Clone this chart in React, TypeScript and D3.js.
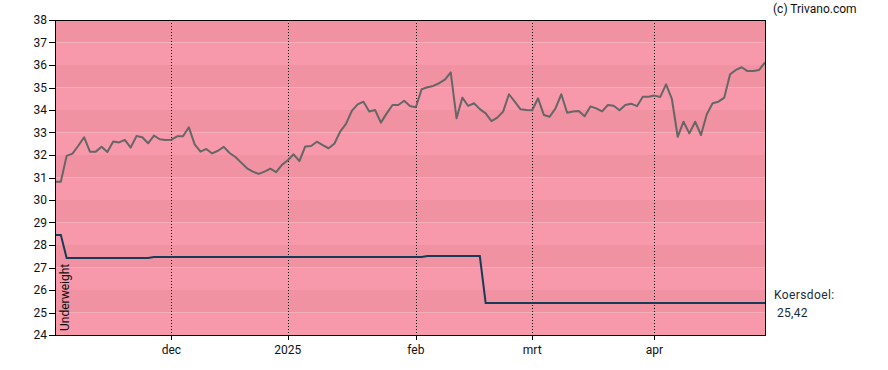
import React from "react";
import * as d3 from "d3";

// Koers (price) per trading day, index 0..122
const price: number[] = [
  30.81, 30.81, 31.96, 32.06, 32.41, 32.79, 32.15, 32.15, 32.37, 32.13,
  32.6, 32.56, 32.67, 32.33, 32.84, 32.79, 32.52, 32.86, 32.7, 32.67,
  32.68, 32.83, 32.83, 33.23, 32.47, 32.15, 32.27, 32.07, 32.19, 32.36,
  32.09, 31.91, 31.66, 31.41, 31.26, 31.16, 31.26, 31.39, 31.24, 31.56,
  31.77, 32.03, 31.73, 32.38, 32.4, 32.59, 32.44, 32.3, 32.5, 33.04,
  33.38, 33.96, 34.25, 34.37, 33.93, 34.0, 33.44, 33.85, 34.22, 34.22,
  34.41, 34.18, 34.12, 34.92, 35.01, 35.07, 35.19, 35.35, 35.67, 33.63,
  34.55, 34.18, 34.3, 34.04, 33.85, 33.51, 33.66, 33.93, 34.7, 34.37,
  34.03, 34.0, 33.99, 34.52, 33.78, 33.7, 34.07, 34.7, 33.88, 33.93,
  33.96, 33.72, 34.16, 34.07, 33.94, 34.22, 34.19, 33.99, 34.22, 34.28,
  34.17, 34.59, 34.59, 34.64, 34.58, 35.14, 34.49, 32.81, 33.48, 32.96,
  33.48, 32.89, 33.81, 34.3, 34.37, 34.55, 35.59, 35.78, 35.9, 35.73,
  35.73, 35.78, 36.12,
];

// Koersdoel (target price) step segments: [fromIndex, toIndex, value]
const targetSteps: [number, number, number][] = [
  [0, 1, 28.45],
  [2, 16, 27.42],
  [17, 63, 27.47],
  [64, 73, 27.51],
  [74, 122, 25.42],
];

const xTickIndex: number[] = [20, 40, 62, 82, 103];
const xTickLabels: string[] = ["dec", "2025", "feb", "mrt", "apr"];
const yTicks: number[] = [24, 25, 26, 27, 28, 29, 30, 31, 32, 33, 34, 35, 36, 37, 38];

const targetLabel = "Koersdoel:";
const targetValueLabel = "25,42";
const adviceLabel = "Underweight";
const copyright = "(c) Trivano.com";

export default function App() {
  const W = 888;
  const H = 370;
  const left = 55;
  const right = 765;
  const top = 20;
  const bottom = 335;

  const x = d3.scaleLinear().domain([0, price.length - 1]).range([left, right]);
  const y = d3.scaleLinear().domain([24, 38]).range([bottom, top]);

  const target: [number, number][] = [];
  targetSteps.forEach(([a, b, v]) => {
    for (let i = a; i <= b; i++) target.push([i, v]);
  });

  const line = d3
    .line<[number, number]>()
    .x((d) => x(d[0]))
    .y((d) => y(d[1]));

  const pricePath = line(price.map((v, i) => [i, v] as [number, number])) || "";
  const targetPath = line(target) || "";

  const bands = d3.range(24, 38);
  const font = "Roboto, 'Liberation Sans', Arial, sans-serif";

  return (
    <svg
      width={W}
      height={H}
      style={{ position: "absolute", left: 0, top: 0, background: "#fff" }}
      fontFamily={font}
    >
      {bands.map((b) => (
        <rect
          key={b}
          x={left}
          y={y(b + 1)}
          width={right - left}
          height={y(b) - y(b + 1)}
          fill={b % 2 === 1 ? "#f092a1" : "#f799aa"}
        />
      ))}
      {xTickIndex.map((t, k) => (
        <g key={k}>
          <line
            x1={Math.round(x(t)) + 0.5}
            x2={Math.round(x(t)) + 0.5}
            y1={top}
            y2={bottom}
            stroke="#000"
            strokeWidth={1}
            strokeDasharray="1,2"
          />
          <line
            x1={Math.round(x(t)) + 0.5}
            x2={Math.round(x(t)) + 0.5}
            y1={bottom}
            y2={bottom + 5}
            stroke="#000"
          />
          <text x={x(t)} y={354} textAnchor="middle" fontSize={12} fill="#111">
            {xTickLabels[k]}
          </text>
        </g>
      ))}
      {yTicks.map((t) => (
        <g key={t}>
          <line x1={49} x2={left} y1={Math.round(y(t)) + 0.5} y2={Math.round(y(t)) + 0.5} stroke="#000" />
          <text x={47} y={y(t)} dy="0.35em" textAnchor="end" fontSize={12} fill="#111">
            {t}
          </text>
        </g>
      ))}
      <path d={targetPath} fill="none" stroke="#163a5a" strokeWidth={2} />
      <path d={pricePath} fill="none" stroke="#666666" strokeWidth={2} strokeLinejoin="round" />
      <rect
        x={left + 0.5}
        y={top + 0.5}
        width={right - left}
        height={bottom - top}
        fill="none"
        stroke="#000"
        strokeWidth={1}
      />
      <text
        transform={`translate(68.5, ${bottom - 4}) rotate(-90)`}
        fontSize={12}
        fill="#111"
      >
        {adviceLabel}
      </text>
      <text x={773} y={13} fontSize={12} fill="#111">
        {copyright}
      </text>
      <text x={774} y={299} fontSize={12} fill="#1c2b3c" letterSpacing={0.4}>
        {targetLabel}
      </text>
      <text x={777} y={317} fontSize={12} fill="#1c2b3c" letterSpacing={0.3}>
        {targetValueLabel}
      </text>
    </svg>
  );
}
